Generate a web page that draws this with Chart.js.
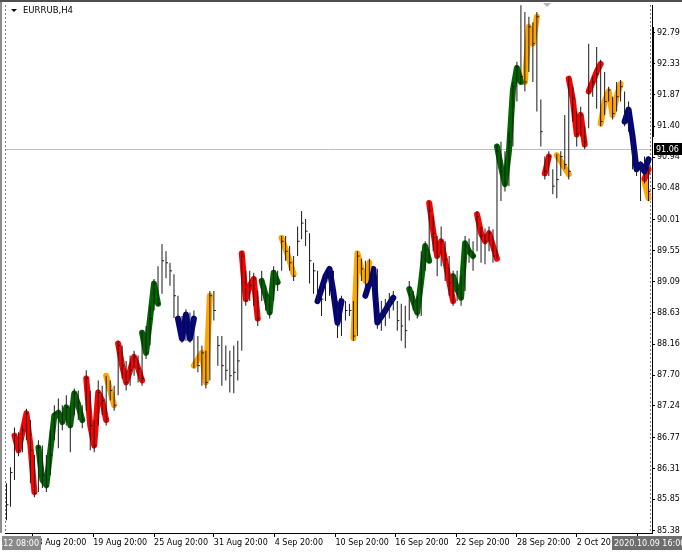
<!DOCTYPE html>
<html>
<head>
<meta charset="utf-8">
<title>EURRUB,H4</title>
<script src="https://cdn.jsdelivr.net/npm/chart.js@4.4.0/dist/chart.umd.min.js"></script>
<style>
body { margin: 0; background: #fff; }
canvas { display: block; }
</style>
</head>
<body>
<canvas id="myChart" width="682" height="553"></canvas>
<script>
// EURRUB H4 bars (one value per bar, left to right)
var symbolTitle = 'EURRUB,H4';
var highs = [86.09, 86.33, 86.92, 86.85, 86.95, 87.20, 87.03, 86.51, 86.73, 86.65,
  86.51, 86.88, 87.25, 87.35, 87.25, 87.40, 87.25, 87.50, 87.47, 87.25,
  87.77, 87.47, 87.03, 87.62, 87.54, 87.69, 87.62, 87.54, 88.21, 88.14,
  87.91, 87.99, 88.06, 87.99, 88.36, 88.43, 88.73, 89.13, 89.32, 89.65,
  89.54, 89.37, 89.20, 88.88, 88.58, 88.68, 88.63, 88.66, 88.28, 88.14,
  88.06, 88.95, 88.95, 88.28, 88.28, 88.14, 88.06, 88.14, 88.21, 89.54,
  89.25, 89.25, 89.22, 88.95, 89.25, 89.03, 88.88, 89.32, 89.25, 89.77,
  89.77, 89.62, 89.47, 89.91, 90.14, 90.02, 89.81, 89.37, 89.25, 89.03,
  89.25, 89.32, 89.25, 88.80, 88.88, 88.80, 88.76, 88.80, 89.54, 89.43,
  89.40, 89.43, 89.32, 89.28, 88.80, 88.83, 88.92, 88.95, 88.80, 88.76,
  88.73, 89.10, 88.95, 88.88, 89.54, 89.69, 90.29, 90.06, 89.77, 89.91,
  89.69, 89.47, 89.25, 89.25, 89.17, 89.77, 89.73, 89.69, 90.14, 89.91,
  89.88, 89.91, 89.87, 91.13, 91.17, 91.03, 91.32, 92.06, 92.36, 93.20,
  93.10, 93.03, 92.95, 93.10, 91.80, 90.95, 91.03, 90.76, 90.99, 91.03,
  91.57, 92.14, 91.99, 91.62, 91.69, 91.40, 92.63, 92.14, 92.58, 92.39,
  92.21, 91.99, 91.84, 92.06, 92.09, 91.92, 91.77, 91.35, 91.03, 90.88,
  90.95, 90.95];
var lows = [85.54, 85.74, 86.14, 86.49, 86.55, 86.73, 86.09, 85.88, 85.96, 86.02,
  85.96, 86.21, 86.73, 86.61, 86.88, 86.95, 86.55, 87.10, 87.03, 86.91,
  87.17, 86.58, 86.55, 86.95, 87.10, 86.95, 87.32, 87.17, 87.40, 87.65,
  87.47, 87.54, 87.69, 87.59, 87.54, 87.94, 88.14, 88.66, 88.73, 88.91,
  89.14, 89.03, 88.55, 88.43, 88.18, 88.21, 88.18, 87.80, 87.74, 87.54,
  87.50, 87.62, 88.51, 87.84, 87.54, 87.62, 87.44, 87.43, 87.62, 88.06,
  88.73, 88.80, 88.73, 88.43, 88.80, 88.66, 88.54, 88.80, 88.95, 89.25,
  89.40, 89.25, 89.10, 89.47, 89.72, 89.62, 89.06, 88.91, 88.76, 88.58,
  88.80, 88.88, 88.66, 88.25, 88.28, 88.51, 88.58, 88.21, 88.28, 89.10,
  88.83, 88.95, 88.80, 88.39, 88.36, 88.43, 88.54, 88.66, 88.36, 88.21,
  88.10, 88.51, 88.66, 88.54, 88.58, 89.25, 89.37, 89.54, 89.17, 89.32,
  89.10, 88.88, 88.73, 88.80, 88.73, 88.95, 89.37, 89.25, 89.54, 89.37,
  89.35, 89.54, 89.37, 89.43, 90.29, 90.43, 90.51, 91.10, 91.77, 92.03,
  91.92, 92.21, 92.06, 91.62, 91.10, 90.61, 90.66, 90.39, 90.33, 90.66,
  90.76, 90.61, 91.47, 91.10, 91.25, 91.06, 91.37, 91.84, 91.66, 91.40,
  91.57, 91.77, 91.50, 91.62, 91.77, 91.40, 91.32, 90.76, 90.66, 90.29,
  90.55, 90.29];
var closes = [85.77, 86.25, 86.80, 86.58, 86.88, 87.13, 86.58, 85.94, 86.62, 86.21,
  86.05, 86.51, 87.13, 87.14, 87.00, 87.22, 86.95, 87.43, 87.29, 87.03,
  87.65, 86.95, 86.65, 87.44, 87.32, 87.05, 87.47, 87.25, 88.14, 87.84,
  87.59, 87.77, 87.97, 87.80, 87.65, 88.03, 88.54, 89.06, 88.76, 89.40,
  89.37, 89.25, 88.88, 88.54, 88.24, 88.60, 88.24, 88.54, 87.84, 88.03,
  87.59, 88.88, 88.66, 88.14, 87.84, 87.77, 87.69, 87.74, 87.91, 89.47,
  88.80, 89.03, 89.13, 88.54, 89.10, 88.88, 88.63, 89.25, 89.07, 89.69,
  89.54, 89.37, 89.17, 89.69, 89.96, 89.84, 89.40, 89.25, 88.80, 88.83,
  89.10, 89.28, 88.80, 88.43, 88.80, 88.66, 88.66, 88.28, 89.47, 89.28,
  88.92, 89.17, 89.22, 88.51, 88.54, 88.66, 88.76, 88.85, 88.51, 88.43,
  88.36, 89.00, 88.80, 88.58, 89.47, 89.57, 90.14, 89.81, 89.47, 89.69,
  89.42, 89.07, 88.95, 88.98, 88.85, 89.62, 89.54, 89.47, 90.06, 89.77,
  89.69, 89.81, 89.47, 91.03, 90.73, 90.54, 91.17, 91.99, 92.29, 92.14,
  92.06, 92.88, 92.63, 93.03, 91.32, 90.73, 90.95, 90.51, 90.61, 90.95,
  90.83, 90.73, 91.81, 91.28, 91.57, 91.17, 91.92, 92.06, 92.18, 91.47,
  91.77, 91.94, 91.59, 91.84, 91.99, 91.47, 91.62, 91.25, 90.80, 90.76,
  90.85, 90.43];

// coloured indicator runs: colour, first bar, values
var segColors = ['red', 'green', 'red', 'orange', 'red', 'green', 'blue', 'orange', 'red', 'green',
  'orange', 'blue', 'orange', 'blue', 'green', 'red', 'green', 'red', 'green', 'orange',
  'red', 'orange', 'red', 'red', 'orange', 'blue', 'red', 'orange'];
var segStarts = [2, 8, 20, 25, 28, 34, 43, 47, 59, 64,
  69, 78, 87, 90, 101, 106, 112, 118, 123, 130,
  135, 138, 141, 146, 149, 155, 160, 160];
var segValues = [
  [86.80, 86.58, 86.85, 87.13, 86.65, 85.96],
  [86.62, 86.14, 86.06, 86.58, 87.10, 87.14, 87.00, 87.22, 86.95, 87.43, 87.25, 87.03],
  [87.65, 86.95, 86.65, 87.44, 87.32, 87.03],
  [87.69, 87.47, 87.25],
  [88.17, 87.84, 87.59, 87.77, 87.97, 87.80, 87.62],
  [88.33, 88.03, 88.54, 89.06, 88.76],
  [88.54, 88.24, 88.60, 88.24, 88.54],
  [87.84, 87.94, 88.03, 87.59, 88.88],
  [89.51, 88.83, 89.03, 89.13, 88.54],
  [89.10, 88.88, 88.63, 89.22, 89.08],
  [89.74, 89.57, 89.40, 89.20],
  [88.80, 88.98, 89.17, 89.28, 88.92, 88.48, 88.80],
  [88.25, 89.51, 89.28, 89.10, 89.37],
  [88.88, 89.07, 89.28, 88.48, 88.57, 88.66, 88.76, 88.85],
  [88.98, 88.80, 88.63, 89.10, 89.62, 89.40],
  [90.26, 89.84, 89.47, 89.69, 89.40, 89.10, 88.80],
  [89.17, 88.98, 88.85, 89.66, 89.54, 89.47],
  [90.09, 89.81, 89.69, 89.81, 89.62, 89.43],
  [91.10, 90.80, 90.54, 91.03, 91.94, 92.27, 92.06],
  [92.06, 92.88, 92.63, 93.03],
  [90.70, 90.95],
  [90.97, 90.88, 90.78, 90.69],
  [92.11, 91.81, 91.28, 91.57, 91.13],
  [91.92, 92.06, 92.21, 92.33],
  [91.44, 91.77, 91.92, 91.57, 91.84, 92.03],
  [91.47, 91.65, 91.25, 90.76, 90.83, 90.73, 90.91],
  [90.62, 90.76],
  [90.58, 90.33]
];

var priceTicks = [92.79, 92.33, 91.87, 91.40, 90.94, 90.48, 90.01, 89.55, 89.09,
  88.63, 88.16, 87.70, 87.24, 86.77, 86.31, 85.85, 85.38];
var timeTickBars = [6.5, 21.75, 37, 52, 67.25, 82.5, 97.5, 112.75, 128, 143, 158.25];
var timeLabels = ['13 Aug 20:00', '19 Aug 20:00', '25 Aug 20:00', '31 Aug 20:00', '4 Sep 20:00',
  '10 Sep 20:00', '16 Sep 20:00', '22 Sep 20:00', '28 Sep 20:00', '2 Oct 20:00', '8 Oct 20:00'];
var firstTime = '2020.08.12 08:00';
var lastTime = '2020.10.09 16:00';
var bidPrice = 91.06;

var colorMap = { red: '#ff0000', green: '#006400', blue: '#00008b', orange: '#ffa500' };
var FONT = 'DejaVu Sans';

Chart.defaults.font.family = FONT;
Chart.defaults.font.size = 8;
Chart.defaults.color = '#000';

var datasets = [];
for (var s = 0; s < segValues.length; s++) {
  var start = segStarts[s];
  datasets.push({
    type: 'line',
    data: segValues[s].map(function (v, k) { return { x: start + k, y: v }; }),
    borderColor: colorMap[segColors[s]],
    borderWidth: 6,
    borderCapStyle: 'round',
    borderJoinStyle: 'round',
    pointRadius: 0,
    fill: false,
    tension: 0,
    order: 3
  });
}
datasets.push({
  type: 'bar',
  data: highs.map(function (h, i) { return { x: i, y: [lows[i], h] }; }),
  backgroundColor: '#1a1a1a',
  barThickness: 1,
  inflateAmount: 0,
  order: 2
});
datasets.push({
  type: 'scatter',
  data: closes.map(function (c, i) { return { x: i, y: c }; }),
  pointStyle: 'dash',
  pointRadius: 2,
  borderColor: '#1a1a1a',
  borderWidth: 1,
  order: 1
});

function drawTag(ctx, text, x, y, w, h, bg, align) {
  ctx.save();
  ctx.fillStyle = bg;
  ctx.fillRect(x, y, w, h);
  ctx.beginPath();
  ctx.rect(x, y, w, h);
  ctx.clip();
  ctx.fillStyle = '#fff';
  ctx.font = '8px ' + FONT;
  ctx.textBaseline = 'middle';
  ctx.textAlign = align;
  ctx.fillText(text, align === 'right' ? x + w - 2 : x + 2, y + h / 2 + 0.5);
  ctx.restore();
}

var frame = {
  id: 'frame',
  beforeDraw: function (chart) {
    var ctx = chart.ctx;
    ctx.save();
    ctx.fillStyle = '#fff';
    ctx.fillRect(0, 0, chart.width, chart.height);
    ctx.restore();
  },
  beforeDatasetsDraw: function (chart) {
    var ctx = chart.ctx, a = chart.chartArea;
    var yb = Math.round(chart.scales.y.getPixelForValue(bidPrice)) + 0.5;
    ctx.save();
    ctx.strokeStyle = '#c0c0c0';
    ctx.lineWidth = 1;
    ctx.beginPath();
    ctx.moveTo(a.left, yb);
    ctx.lineTo(a.right, yb);
    ctx.stroke();
    ctx.strokeStyle = '#808080';
    ctx.setLineDash([2, 2]);
    ctx.beginPath();
    ctx.moveTo(a.left + 0.5, a.top);
    ctx.lineTo(a.left + 0.5, a.bottom);
    ctx.moveTo(a.right - 1.5, a.top);
    ctx.lineTo(a.right - 1.5, a.bottom);
    ctx.stroke();
    ctx.restore();
  },
  afterDraw: function (chart) {
    var ctx = chart.ctx, a = chart.chartArea;
    ctx.save();
    // window edges
    ctx.fillStyle = '#8c8c8c';
    ctx.fillRect(0, 0, 2, a.bottom);
    ctx.fillStyle = '#505050';
    ctx.fillRect(0, 0, chart.width, 2);
    // title
    ctx.fillStyle = '#000';
    ctx.beginPath();
    ctx.moveTo(11, 9);
    ctx.lineTo(17, 9);
    ctx.lineTo(14, 12);
    ctx.closePath();
    ctx.fill();
    ctx.font = '8.5px ' + FONT;
    ctx.textBaseline = 'middle';
    ctx.textAlign = 'left';
    ctx.fillText(symbolTitle, 23, 11);
    // shift marker
    ctx.fillStyle = '#b4b4b4';
    ctx.beginPath();
    ctx.moveTo(543, 3);
    ctx.lineTo(551, 3);
    ctx.lineTo(547, 7);
    ctx.closePath();
    ctx.fill();
    // price scale range mark
    ctx.fillStyle = '#000';
    ctx.fillRect(a.right, 27, 2, 110);
    ctx.restore();
    var yb = Math.round(chart.scales.y.getPixelForValue(bidPrice));
    drawTag(ctx, bidPrice.toFixed(2), a.right + 2, yb - 6, chart.width - a.right - 2, 12, '#000', 'left');
    drawTag(ctx, firstTime, 2, a.bottom + 3, 39, 14, '#8a8a8a', 'right');
    drawTag(ctx, lastTime, 612, a.bottom + 3, 70, 14, '#6e6e6e', 'left');
  }
};

var ctx = document.getElementById('myChart').getContext('2d');
var myChart = new Chart(ctx, {
  type: 'bar',
  data: { datasets: datasets },
  options: {
    responsive: false,
    animation: false,
    devicePixelRatio: 1,
    layout: { padding: { left: 3, top: 3, right: 0, bottom: 0 } },
    plugins: {
      legend: { display: false },
      tooltip: { enabled: false }
    },
    scales: {
      x: {
        type: 'linear',
        position: 'bottom',
        offset: false,
        min: -0.375,
        max: 161.875,
        grid: { display: true, offset: false, drawOnChartArea: false, drawTicks: true, tickLength: 4, color: '#000' },
        border: { display: true, color: '#000' },
        ticks: {
          align: 'start',
          autoSkip: false,
          maxRotation: 0,
          padding: 1,
          callback: function (value, index) { return timeLabels[index]; }
        },
        afterBuildTicks: function (scale) {
          scale.ticks = timeTickBars.map(function (v) { return { value: v }; });
        },
        afterFit: function (scale) {
          scale.height = 20;
          scale.paddingLeft = 0;
          scale.paddingRight = 0;
        }
      },
      y: {
        type: 'linear',
        position: 'right',
        beginAtZero: false,
        min: 85.35,
        max: 93.205,
        grid: { display: true, drawOnChartArea: false, drawTicks: true, tickLength: 3, color: '#000' },
        border: { display: true, color: '#000' },
        ticks: {
          autoSkip: false,
          padding: 2,
          callback: function (value) { return value.toFixed(2); }
        },
        afterBuildTicks: function (scale) {
          scale.ticks = priceTicks.map(function (v) { return { value: v }; });
        },
        afterFit: function (scale) {
          scale.width = 30;
          scale.paddingTop = 0;
          scale.paddingBottom = 0;
        }
      }
    }
  },
  plugins: [frame]
});
</script>
</body>
</html>
